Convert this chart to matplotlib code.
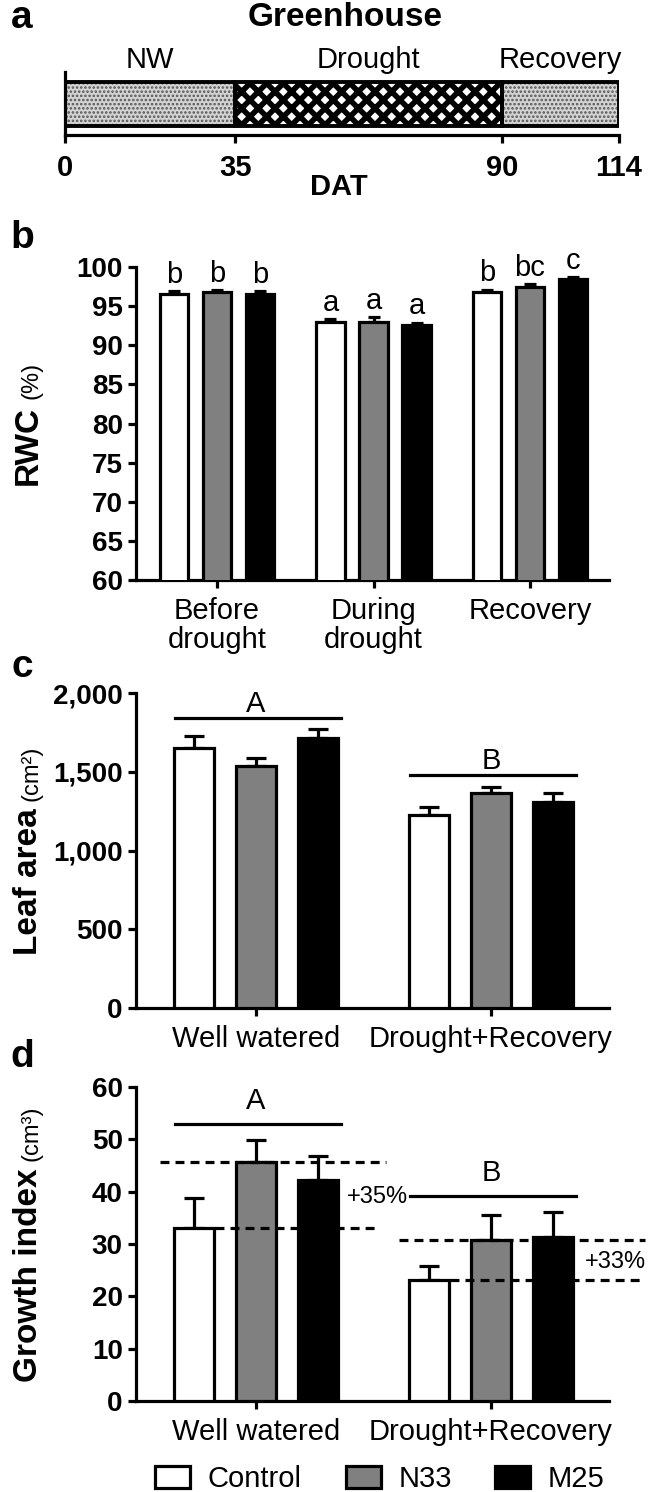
import numpy as np
import matplotlib.pyplot as plt
from matplotlib.patches import Patch

plt.rcParams['font.family'] = ['Liberation Sans', 'DejaVu Sans']

# ---- data ----
# panel a: timeline (days after transplant)
phase_names = ['NW', 'Drought', 'Recovery']
phase_start = [0, 35, 90]
phase_end = [35, 90, 114]
dat_ticks = [0, 35, 90, 114]

# panel b: relative water content (%)
rwc_groups = ['Before\ndrought', 'During\ndrought', 'Recovery']
rwc_control = [96.6, 93.0, 96.8]
rwc_n33 = [96.8, 93.0, 97.5]
rwc_m25 = [96.6, 92.6, 98.5]
rwc_err_control = [0.3, 0.3, 0.3]
rwc_err_n33 = [0.2, 0.6, 0.3]
rwc_err_m25 = [0.3, 0.3, 0.2]
rwc_letters_control = ['b', 'a', 'b']
rwc_letters_n33 = ['b', 'a', 'bc']
rwc_letters_m25 = ['b', 'a', 'c']

# panel c: leaf area (cm2)
groups = ['Well watered', 'Drought+Recovery']
la_control = [1651, 1225]
la_n33 = [1537, 1365]
la_m25 = [1716, 1310]
la_err_control = [78, 53]
la_err_n33 = [50, 40]
la_err_m25 = [55, 55]
la_sig = ['A', 'B']
la_sig_line = [1841, 1479]

# panel d: growth index (cm3)
gi_control = [33.1, 23.1]
gi_n33 = [45.6, 30.8]
gi_m25 = [42.3, 31.4]
gi_err_control = [5.7, 2.7]
gi_err_n33 = [4.3, 4.8]
gi_err_m25 = [4.5, 4.8]
gi_sig = ['A', 'B']
gi_sig_line = [53.0, 39.2]
gi_gain = ['+35%', '+33%']

treatments = ['Control', 'N33', 'M25']
colors = ['white', '#808080', 'black']

W, H = 648, 1492
fig = plt.figure(figsize=(W / 100, H / 100), dpi=100)


def box(l, t, r, b):
    return [l / W, 1 - b / H, (r - l) / W, (b - t) / H]


LW = 2.3


def style(ax):
    for s in ['top', 'right']:
        ax.spines[s].set_visible(False)
    for s in ['left', 'bottom']:
        ax.spines[s].set_linewidth(LW)
    ax.tick_params(width=LW, length=6, labelsize=20)
    for lab in ax.get_yticklabels():
        lab.set_fontweight('bold')


def grouped_bars(ax, x, series, errs, width, pitch, capsize):
    tops = []
    for i, (vals, err) in enumerate(zip(series, errs)):
        xs = x + (i - 1) * pitch
        ax.bar(xs, vals, width, color=colors[i], edgecolor='black', linewidth=LW, zorder=3)
        ax.errorbar(xs, vals, yerr=[np.zeros(len(vals)), err], fmt='none', ecolor='black',
                    elinewidth=LW, capsize=capsize, capthick=LW, zorder=2)
        tops.append(np.array(vals) + np.array(err))
    return tops


def ylabel2(ax, main, unit, xpix):
    r = fig.canvas.get_renderer()
    pos = ax.get_position()
    yc = (pos.y0 + pos.y1) / 2 * H
    t1 = fig.text(0, 0, main, rotation=90, fontsize=24, fontweight='bold',
                  rotation_mode='anchor', ha='left', va='baseline')
    t2 = fig.text(0, 0, unit, rotation=90, fontsize=17,
                  rotation_mode='anchor', ha='left', va='baseline')
    w1 = t1.get_window_extent(r).height
    w2 = t2.get_window_extent(r).height
    gap = 7
    y0 = yc - (w1 + gap + w2) / 2
    t1.set_position((xpix / W, y0 / H))
    t2.set_position((xpix / W, (y0 + w1 + gap) / H))


# ---- panel a ----
axa = fig.add_axes(box(65, 72, 619, 135))
style(axa)
widths = np.array(phase_end) - np.array(phase_start)
with plt.rc_context({'hatch.linewidth': 1.2}):
    b1 = axa.barh(0.49, widths[[0, 2]], left=np.array(phase_start)[[0, 2]], height=0.7,
                  color='#d2d2d2', edgecolor='#555555', hatch='....', linewidth=0, zorder=2)
with plt.rc_context({'hatch.linewidth': 4.0}):
    b2 = axa.barh(0.49, widths[1], left=phase_start[1], height=0.7,
                  color='white', edgecolor='black', hatch='xx', linewidth=0, zorder=2)
for p in b1:
    if hasattr(p, 'set_hatch_linewidth'):
        p.set_hatch_linewidth(1.2)
for p in b2:
    if hasattr(p, 'set_hatch_linewidth'):
        p.set_hatch_linewidth(4.0)
axa.barh(0.49, widths, left=phase_start, height=0.7, fill=False,
         edgecolor='black', linewidth=LW + 0.5, zorder=3)
axa.set_xlim(0, 114)
axa.set_ylim(0, 1)
axa.set_yticks([])
axa.set_xticks(dat_ticks)
axa.set_xticklabels([str(t) for t in dat_ticks], fontweight='bold', fontsize=21)
axa.tick_params(axis='x', pad=8)
for name, s, e in zip(phase_names, phase_start, phase_end):
    axa.text((s + e) / 2, 1.19, name, ha='center', va='center', fontsize=21, clip_on=False)
fig.text(345 / W, 1 - 18 / H, 'Greenhouse', ha='center', va='center', fontsize=24, fontweight='bold')
fig.text(339 / W, 1 - 187 / H, 'DAT', ha='center', va='center', fontsize=21, fontweight='bold')

# ---- panel b ----
axb = fig.add_axes(box(136, 267, 609, 580))
style(axb)
xb = np.arange(len(rwc_groups))
tops = grouped_bars(axb, xb, [rwc_control, rwc_n33, rwc_m25],
                    [rwc_err_control, rwc_err_n33, rwc_err_m25], 0.18, 0.275, 4.5)
for i, letters in enumerate([rwc_letters_control, rwc_letters_n33, rwc_letters_m25]):
    for j, lt in enumerate(letters):
        axb.text(xb[j] + (i - 1) * 0.275, tops[i][j] + 2.1, lt, ha='center', va='center',
                 fontsize=21, clip_on=False)
axb.set_ylim(60, 100)
axb.set_yticks(np.arange(60, 101, 5))
axb.set_xlim(-0.518, 2.505)
axb.set_xticks(xb)
axb.set_xticklabels(rwc_groups, fontsize=21, linespacing=1.05)
axb.tick_params(axis='x', pad=6)
for lab in axb.get_yticklabels():
    lab.set_fontweight('bold')
ylabel2(axb, 'RWC', '(%)', 37)

# ---- panel c ----
axc = fig.add_axes(box(136, 693, 609, 1008))
style(axc)
xc = np.arange(len(groups))
grouped_bars(axc, xc, [la_control, la_n33, la_m25],
             [la_err_control, la_err_n33, la_err_m25], 0.17, 0.264, 7.5)
for j in range(len(groups)):
    axc.plot([xc[j] - 0.343, xc[j] + 0.36], [la_sig_line[j]] * 2, color='black', lw=LW)
    axc.text(xc[j], la_sig_line[j] + 90, la_sig[j], ha='center', va='center', fontsize=21)
axc.set_ylim(0, 2000)
la_ticks = [0, 500, 1000, 1500, 2000]
axc.set_yticks(la_ticks)
axc.set_yticklabels([f'{t:,}' for t in la_ticks], fontweight='bold', fontsize=20)
axc.set_xlim(-0.51, 1.502)
axc.set_xticks(xc)
axc.set_xticklabels(groups, fontsize=21)
axc.tick_params(axis='x', pad=6)
ylabel2(axc, 'Leaf area', '(cm\u00b2)', 37)

# ---- panel d ----
axd = fig.add_axes(box(136, 1087, 609, 1401))
style(axd)
xd = np.arange(len(groups))
grouped_bars(axd, xd, [gi_control, gi_n33, gi_m25],
             [gi_err_control, gi_err_n33, gi_err_m25], 0.17, 0.264, 7.5)
for j in range(len(groups)):
    axd.plot([xd[j] - 0.343, xd[j] + 0.36], [gi_sig_line[j]] * 2, color='black', lw=LW)
    axd.text(xd[j], gi_sig_line[j] + 4.4, gi_sig[j], ha='center', va='center', fontsize=21)
# dashed reference lines: N33 mean and control mean
dash = dict(color='black', lw=LW, ls=(0, (2.8, 1.9)), clip_on=False, zorder=4)
axd.plot([-0.41, 0.553], [gi_n33[0]] * 2, **dash)
axd.plot([-0.174, 0.52], [gi_control[0]] * 2, **dash)
axd.text(0.385, 39.0, gi_gain[0], ha='left', va='center', fontsize=17)
axd.plot([0.609, 1.655], [gi_n33[1]] * 2, **dash)
axd.plot([0.826, 1.655], [gi_control[1]] * 2, **dash)
axd.text(1.40, 26.6, gi_gain[1], ha='left', va='center', fontsize=17, clip_on=False)
axd.set_ylim(0, 60)
axd.set_yticks(np.arange(0, 61, 10))
axd.set_xlim(-0.51, 1.502)
axd.set_xticks(xd)
axd.set_xticklabels(groups, fontsize=21)
axd.tick_params(axis='x', pad=6)
for lab in axd.get_yticklabels():
    lab.set_fontweight('bold')
ylabel2(axd, 'Growth index', '(cm\u00b3)', 37)

# legend
handles = [Patch(facecolor=c, edgecolor='black', linewidth=LW) for c in colors]
fig.legend(handles, treatments, loc='center', bbox_to_anchor=(380 / W, 1 - 1479 / H),
           ncol=3, frameon=False, fontsize=21, handlelength=1.2, handleheight=0.75,
           handletextpad=0.6, columnspacing=1.5, borderaxespad=0, borderpad=0)

# panel letters
for lt, y in zip('abcd', [18, 238, 667, 1057]):
    fig.text(22 / W, 1 - y / H, lt, ha='center', va='center', fontsize=28, fontweight='bold')

fig.savefig('out.png', dpi=100)
